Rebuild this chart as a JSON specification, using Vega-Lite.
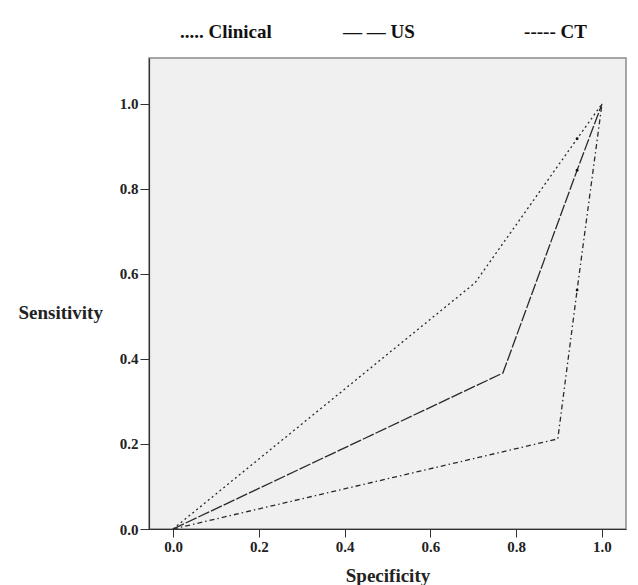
{
  "$schema": "https://vega.github.io/schema/vega-lite/v6.json",
  "width": 477,
  "height": 471,
  "autosize": {"type": "none"},
  "padding": {"left": 149, "top": 58, "right": 12, "bottom": 56},
  "background": "white",
  "title": {
    "text": "..... Clinical\u00a0\u00a0\u00a0\u00a0\u00a0\u00a0\u00a0\u00a0\u00a0\u00a0\u00a0\u00a0\u00a0\u00a0\u00a0— — US\u00a0\u00a0\u00a0\u00a0\u00a0\u00a0\u00a0\u00a0\u00a0\u00a0\u00a0\u00a0\u00a0\u00a0\u00a0\u00a0\u00a0\u00a0\u00a0\u00a0\u00a0\u00a0\u00a0----- CT",
    "anchor": "start",
    "frame": "group",
    "dx": 31,
    "offset": 16,
    "font": "Liberation Serif",
    "fontSize": 19,
    "fontWeight": "bold",
    "color": "#111111"
  },
  "data": {
    "values": [
      {"series": "Clinical", "specificity": 0.0, "sensitivity": 0.0},
      {"series": "Clinical", "specificity": 0.704, "sensitivity": 0.579},
      {"series": "Clinical", "specificity": 0.942, "sensitivity": 0.918},
      {"series": "Clinical", "specificity": 1.0, "sensitivity": 1.0},
      {"series": "US", "specificity": 0.0, "sensitivity": 0.0},
      {"series": "US", "specificity": 0.769, "sensitivity": 0.367},
      {"series": "US", "specificity": 0.942, "sensitivity": 0.844},
      {"series": "US", "specificity": 1.0, "sensitivity": 1.0},
      {"series": "CT", "specificity": 0.0, "sensitivity": 0.0},
      {"series": "CT", "specificity": 0.897, "sensitivity": 0.212},
      {"series": "CT", "specificity": 0.942, "sensitivity": 0.562},
      {"series": "CT", "specificity": 1.0, "sensitivity": 1.0}
    ]
  },
  "encoding": {
    "x": {
      "field": "specificity",
      "type": "quantitative",
      "title": "Specificity",
      "scale": {"domain": [-0.056, 1.056], "nice": false, "zero": false},
      "axis": {
        "values": [0, 0.2, 0.4, 0.6, 0.8, 1.0],
        "format": ".1f",
        "grid": false,
        "domain": true,
        "domainColor": "#333333",
        "domainWidth": 1.2,
        "tickColor": "#333333",
        "tickSize": 8,
        "labelFont": "Liberation Serif",
        "labelFontSize": 15,
        "labelFontWeight": "bold",
        "labelColor": "#222222",
        "labelPadding": 2,
        "titleFont": "Liberation Serif",
        "titleFontSize": 19,
        "titleFontWeight": "bold",
        "titleColor": "#222222",
        "titleY": 46,
        "titleBaseline": "middle"
      }
    },
    "y": {
      "field": "sensitivity",
      "type": "quantitative",
      "title": "Sensitivity",
      "scale": {"domain": [0, 1.108], "nice": false},
      "axis": {
        "values": [0, 0.2, 0.4, 0.6, 0.8, 1.0],
        "format": ".1f",
        "grid": false,
        "domain": true,
        "domainColor": "#333333",
        "domainWidth": 1.2,
        "tickColor": "#333333",
        "tickSize": 9,
        "labelFont": "Liberation Serif",
        "labelFontSize": 15,
        "labelFontWeight": "bold",
        "labelColor": "#222222",
        "labelPadding": 2,
        "titleFont": "Liberation Serif",
        "titleFontSize": 19,
        "titleFontWeight": "bold",
        "titleColor": "#222222",
        "titleAngle": 0,
        "titleAlign": "left",
        "titleBaseline": "middle",
        "titleX": -131,
        "titleY": 254
      }
    }
  },
  "layer": [
    {
      "mark": {"type": "line", "color": "#2a2a2a", "strokeWidth": 1.3},
      "encoding": {
        "strokeDash": {
          "field": "series",
          "type": "nominal",
          "scale": {"domain": ["Clinical", "US", "CT"], "range": [[2, 3], [12, 2], [5, 3, 1.5, 3]]},
          "legend": null
        },
        "detail": {"field": "series"}
      }
    },
    {
      "transform": [{"filter": "datum.specificity > 0.93 && datum.specificity < 0.95"}],
      "mark": {"type": "point", "filled": true, "color": "#111111", "size": 8, "opacity": 1}
    }
  ],
  "config": {
    "view": {"fill": "#f0f0f0", "stroke": "#8a8a8a", "strokeWidth": 1.5}
  }
}
